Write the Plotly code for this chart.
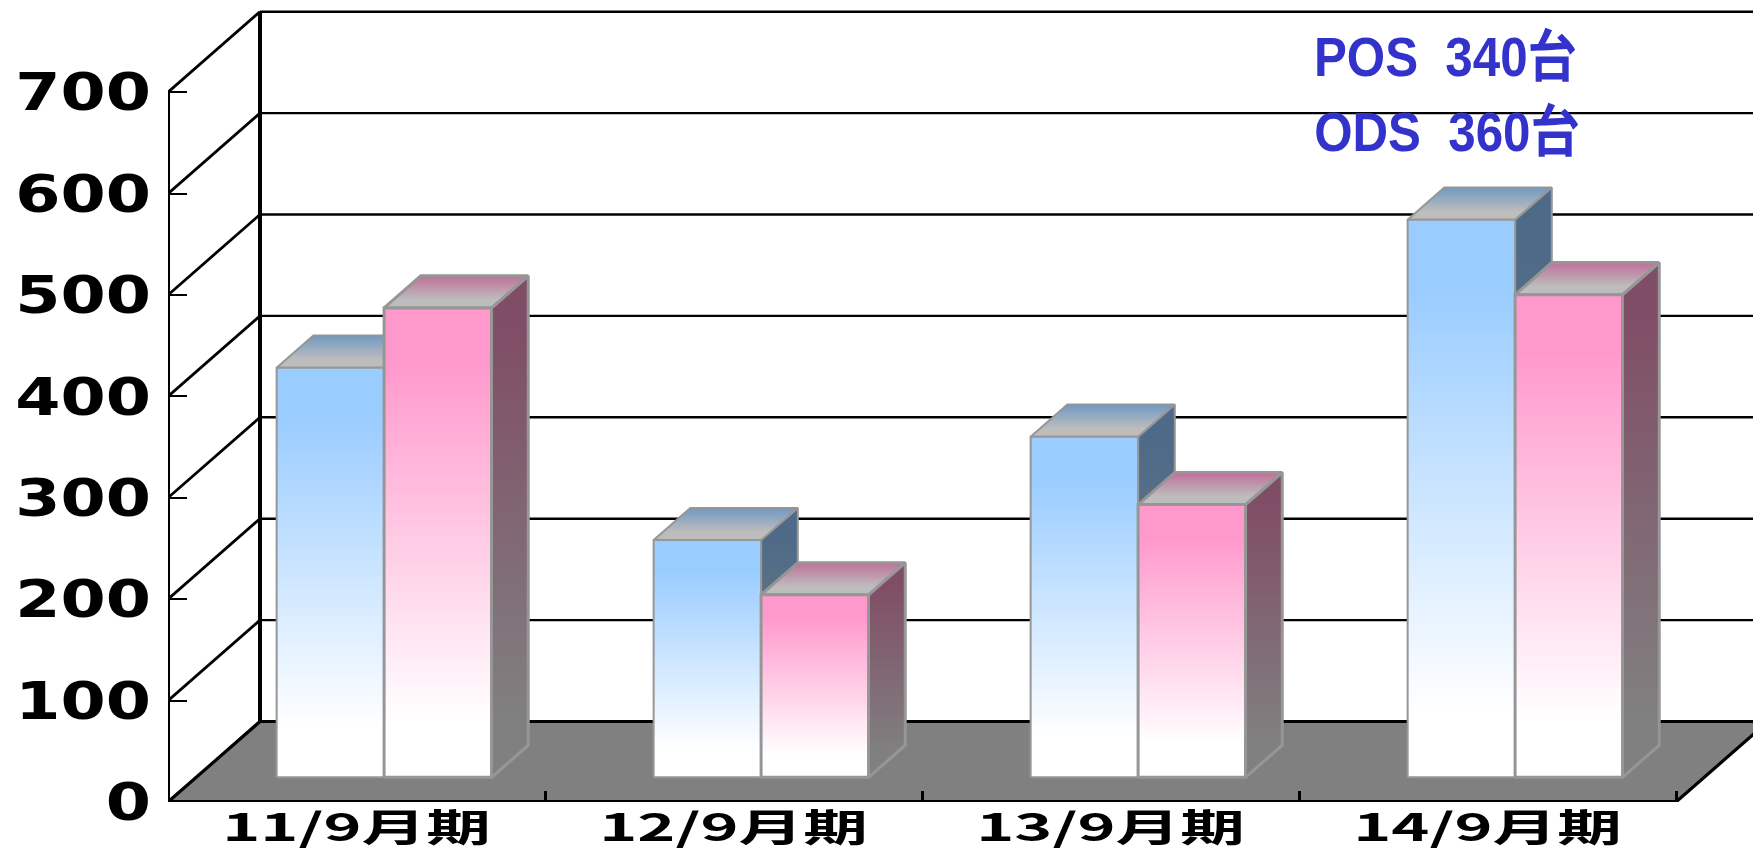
import plotly.graph_objects as go

categories = ["11/9月期", "12/9月期", "13/9月期", "14/9月期"]
pos_values = [404, 234, 336, 550]
ods_values = [463, 180, 269, 476]
y_ticks = [0, 100, 200, 300, 400, 500, 600, 700]
notes = ["POS\u00a0\u00a0340台", "ODS\u00a0\u00a0360台"]

W, H = 1753, 851
LEFT, BOTTOM = 168, 49
PX_CAT, PX_VAL = 377.0, 1.014
XMAX = (W - LEFT) / PX_CAT
YMAX = (H - BOTTOM) / PX_VAL
DX, DY = 92 / PX_CAT, 80.5 / PX_VAL
D0, D1 = 0.306, 0.705
BAR0, BARW = 0.2135, 0.2850


def proj(x, v, d=0.0):
    return x + d * DX, v + d * DY


fig = go.Figure()


def poly(points, fill=None, grad=None, line=None, lw=0, clip=True):
    xs = [p[0] for p in points]
    ys = [p[1] for p in points]
    t = dict(x=xs, y=ys, mode="lines", hoverinfo="skip", showlegend=False,
             cliponaxis=clip, line=dict(color=line or "rgba(0,0,0,0)", width=lw))
    if fill or grad:
        t["fill"] = "toself"
        xs.append(xs[0]); ys.append(ys[0])
    if fill:
        t["fillcolor"] = fill
    if grad:
        t["fillgradient"] = dict(type="vertical", colorscale=grad,
                                 start=max(ys), stop=min(ys))
    fig.add_trace(go.Scatter(**t))


def segment(a, b, lw=2, clip=True):
    poly([a, b], line="#000000", lw=lw, clip=clip)


# floor
poly([proj(0, 0), proj(0, 0, 1), proj(4, 0, 1), proj(4, 0)], fill="#808080")
# walls
for v in y_ticks[1:]:
    segment(proj(0, v), proj(0, v, 1), lw=2.8)
    segment(proj(0, v, 1), proj(XMAX + 1, v, 1), lw=2.4)
segment(proj(0, 0), proj(0, 0, 1), lw=3.2)
segment(proj(0, 0, 1), proj(XMAX + 1, 0, 1), lw=3)
segment(proj(0, 0, 1), proj(0, 700, 1), lw=4)
segment(proj(0, 0), proj(0, 700), lw=4, clip=False)
segment(proj(0, 0), proj(4, 0), lw=4, clip=False)
segment(proj(4, 0), proj(4, 0, 1), lw=3.2)


def bar(x0, v, front, side, top, lw):
    x1 = x0 + BARW
    edge = "#969696"
    poly([proj(x1, 0, D0), proj(x1, 0, D1), proj(x1, v, D1), proj(x1, v, D0)],
         grad=side, line=edge, lw=lw)
    poly([proj(x0, v, D0), proj(x1, v, D0), proj(x1, v, D1), proj(x0, v, D1)],
         grad=top, line=edge, lw=lw)
    poly([proj(x0, 0, D0), proj(x1, 0, D0), proj(x1, v, D0), proj(x0, v, D0)],
         grad=front, line=edge, lw=lw)


BLUE_FRONT = [[0, "#99CCFF"], [0.12, "#99CCFF"], [0.88, "#FFFFFF"], [1, "#FFFFFF"]]
BLUE_SIDE = [[0, "#4D6A88"], [0.1, "#4D6A88"], [0.88, "#808080"], [1, "#808080"]]
BLUE_TOP = [[0, "#7099C2"], [0.75, "#BDBDBD"], [1, "#BDBDBD"]]
PINK_FRONT = [[0, "#FF99CC"], [0.12, "#FF99CC"], [0.88, "#FFFFFF"], [1, "#FFFFFF"]]
PINK_SIDE = [[0, "#804D66"], [0.1, "#804D66"], [0.88, "#808080"], [1, "#808080"]]
PINK_TOP = [[0, "#BF7099"], [0.75, "#BDBDBD"], [1, "#BDBDBD"]]

for i in range(len(categories)):
    bar(i + BAR0, pos_values[i], BLUE_FRONT, BLUE_SIDE, BLUE_TOP, 2)
    bar(i + BAR0 + BARW, ods_values[i], PINK_FRONT, PINK_SIDE, PINK_TOP, 3)

for k, note in enumerate(notes):
    fig.add_annotation(x=2.988, y=735.5 - 74.5 * k, text=note, showarrow=False, xanchor="left",
                       yanchor="middle", xref="x", yref="y",
                       font=dict(family="Liberation Sans, Noto Sans CJK JP", size=56,
                                 color="#3333CC", weight="bold"))

fig.update_layout(
    width=W, height=H, margin=dict(l=LEFT, r=0, t=0, b=BOTTOM, pad=0),
    paper_bgcolor="white", plot_bgcolor="white",
    xaxis=dict(range=[0, XMAX], showgrid=False, zeroline=False, showline=False, automargin=False,
               tickvals=[i + 0.5 for i in range(len(categories))], ticktext=categories,
               ticks="", ticklabelstandoff=0,
               tickfont=dict(family="Noto Sans CJK JP", size=38, color="black", weight="bold"),
               minor=dict(tickvals=[1, 2, 3, 4], ticks="inside", ticklen=11, tickwidth=3, tickcolor="black")),
    yaxis=dict(range=[0, YMAX], showgrid=False, zeroline=False, showline=False, automargin=False,
               tickvals=y_ticks, ticks="inside", ticklen=19, tickwidth=2, tickcolor="black",
               ticklabelstandoff=16,
               tickfont=dict(family="DejaVu Sans", size=52, color="black", weight="bold")),
)

# The reference's lettering is set in horizontally stretched or squeezed faces.
STRETCH_JS = """
document.body.style.margin='0';
function stretch(sel, s) {
  document.querySelectorAll(sel).forEach(function (t) {
    var x = +(t.getAttribute('x') || 0);
    var old = t.getAttribute('transform') || '';
    t.setAttribute('transform', old + ' translate(' + x + ',0) scale(' + s + ',1) translate(' + (-x) + ',0)');
  });
}
stretch('.xtick text', 1.70);
stretch('.ytick text', 1.25);
stretch('.annotation-text', 0.88);
"""
fig.write_html("out.html", post_script=STRETCH_JS, config={"displayModeBar": False})
